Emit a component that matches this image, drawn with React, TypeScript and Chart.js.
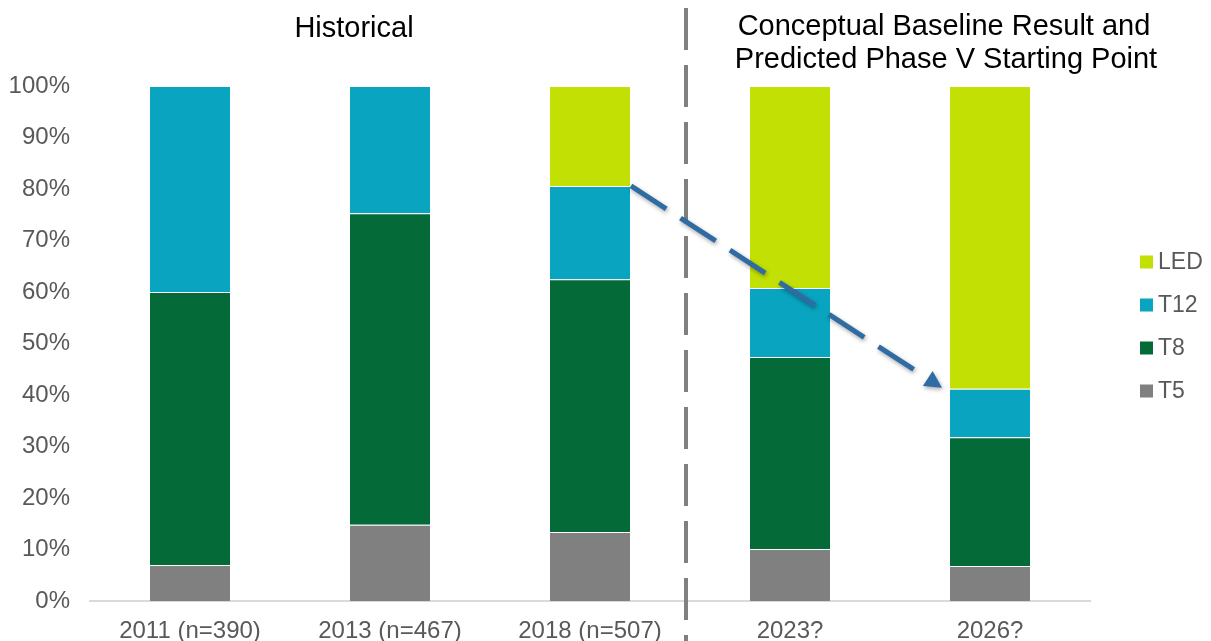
import React, { useEffect, useRef } from "react";
import { Chart, registerables } from "chart.js";

Chart.register(...registerables);

const categories = ["2011 (n=390)", "2013 (n=467)", "2018 (n=507)", "2023?", "2026?"];
const t5Values = [7.0, 14.8, 13.4, 10.1, 6.8];
const t8Values = [53.0, 60.5, 49.1, 37.3, 25.0];
const t12Values = [40.0, 24.7, 18.1, 13.4, 9.4];
const ledValues = [0, 0, 19.4, 39.2, 58.8];
const yTicks = [0, 10, 20, 30, 40, 50, 60, 70, 80, 90, 100];

const COLORS = { LED: "#C3E005", T12: "#09A4BF", T8: "#046A38", T5: "#808080" };
const FONT = "'Liberation Sans', Arial, sans-serif";

const overlayPlugin = {
  id: "overlay",
  afterDraw(chart: any) {
    const ctx = chart.ctx;
    const x = chart.scales.x;
    const y = chart.scales.y;
    ctx.save();
    // titles
    ctx.fillStyle = "#000000";
    ctx.font = `29px ${FONT}`;
    ctx.textAlign = "center";
    ctx.textBaseline = "middle";
    ctx.fillText("Historical", 354, 29);
    ctx.fillText("Conceptual Baseline Result and", 944, 27);
    ctx.fillText("Predicted Phase V Starting Point", 946, 60);

    // vertical dashed divider
    const divX = (x.getPixelForValue(2) + x.getPixelForValue(3)) / 2 - 4;
    ctx.strokeStyle = "#808080";
    ctx.lineWidth = 4;
    ctx.setLineDash([42, 15]);
    ctx.beginPath();
    ctx.moveTo(divX, 8);
    ctx.lineTo(divX, chart.height);
    ctx.stroke();

    // arrow
    const half = 40;
    const sx = x.getPixelForValue(2) + half + 1;
    const sy = y.getPixelForValue(t5Values[2] + t8Values[2] + t12Values[2]);
    const ex = x.getPixelForValue(4) - half - 8;
    const ey = y.getPixelForValue(t5Values[4] + t8Values[4] + t12Values[4]) - 1;
    const ang = Math.atan2(ey - sy, ex - sx);
    const total = Math.hypot(ex - sx, ey - sy);
    const headLen = 17;
    const dash = 43;
    const gap = 16;
    ctx.shadowColor = "rgba(0,0,0,0.35)";
    ctx.shadowBlur = 4;
    ctx.shadowOffsetX = 1;
    ctx.shadowOffsetY = 2;
    ctx.strokeStyle = "#2F6CA3";
    ctx.fillStyle = "#2F6CA3";
    ctx.lineWidth = 5;
    ctx.lineCap = "butt";
    const stopAt = total - headLen - 12;
    for (let d = 0; d < stopAt; d += dash + gap) {
      const d2 = Math.min(d + dash, stopAt);
      ctx.beginPath();
      ctx.moveTo(sx + Math.cos(ang) * d, sy + Math.sin(ang) * d);
      ctx.lineTo(sx + Math.cos(ang) * d2, sy + Math.sin(ang) * d2);
      ctx.stroke();
    }
    const lx = ex - Math.cos(ang) * headLen;
    const ly = ey - Math.sin(ang) * headLen;
    const w = 9;
    ctx.beginPath();
    ctx.moveTo(ex, ey);
    ctx.lineTo(lx + Math.cos(ang + Math.PI / 2) * w, ly + Math.sin(ang + Math.PI / 2) * w);
    ctx.lineTo(lx - Math.cos(ang + Math.PI / 2) * w, ly - Math.sin(ang + Math.PI / 2) * w);
    ctx.closePath();
    ctx.fill();
    ctx.shadowColor = "transparent";

    // legend
    const items: [string, string][] = [
      ["LED", COLORS.LED],
      ["T12", COLORS.T12],
      ["T8", COLORS.T8],
      ["T5", COLORS.T5],
    ];
    ctx.font = `23px ${FONT}`;
    ctx.textAlign = "left";
    ctx.textBaseline = "middle";
    items.forEach(([label, color], i) => {
      const cy = 262 + i * 43;
      ctx.fillStyle = color;
      ctx.fillRect(1140, cy - 6.5, 13, 13);
      ctx.fillStyle = "#595959";
      ctx.fillText(label, 1158, cy + 1);
    });
    ctx.restore();
  },
};

export default function App() {
  const ref = useRef<HTMLCanvasElement>(null);
  useEffect(() => {
    if (!ref.current) return;
    const mk = (label: string, data: number[], color: string) => ({
      label,
      data,
      backgroundColor: color,
      borderColor: "rgba(255,255,255,0.25)",
      borderWidth: { top: 1 },
      borderSkipped: false,
      barPercentage: 0.4,
      categoryPercentage: 1,
    });
    const chart = new Chart(ref.current, {
      type: "bar",
      data: {
        labels: categories,
        datasets: [
          mk("T5", t5Values, COLORS.T5),
          mk("T8", t8Values, COLORS.T8),
          mk("T12", t12Values, COLORS.T12),
          mk("LED", ledValues, COLORS.LED),
        ] as any,
      },
      options: {
        animation: false,
        responsive: true,
        maintainAspectRatio: false,
        layout: { padding: { top: 86, right: 121, left: 0, bottom: 0 } },
        plugins: { legend: { display: false }, tooltip: { enabled: false }, title: { display: false } },
        scales: {
          x: {
            stacked: true,
            grid: { display: false, drawTicks: false },
            border: { display: true, color: "#D9D9D9", width: 2 },
            ticks: { color: "#595959", font: { family: FONT, size: 24 }, padding: 16 },
            afterFit: (s: any) => { s.height = 40; },
          },
          y: {
            stacked: true,
            min: 0,
            max: 100,
            grid: { display: false, drawTicks: false },
            border: { display: false },
            afterBuildTicks: (s: any) => { s.ticks = yTicks.map((v) => ({ value: v })); },
            ticks: {
              color: "#595959",
              font: { family: FONT, size: 24 },
              padding: 20,
              callback: (v: any) => v + "%",
            },
            afterFit: (s: any) => { s.width = 90; },
          },
        },
      },
      plugins: [overlayPlugin],
    });
    return () => chart.destroy();
  }, []);
  return (
    <div style={{ position: "fixed", left: 0, top: 0, width: 1211, height: 641, background: "#fff" }}>
      <canvas ref={ref} />
    </div>
  );
}
